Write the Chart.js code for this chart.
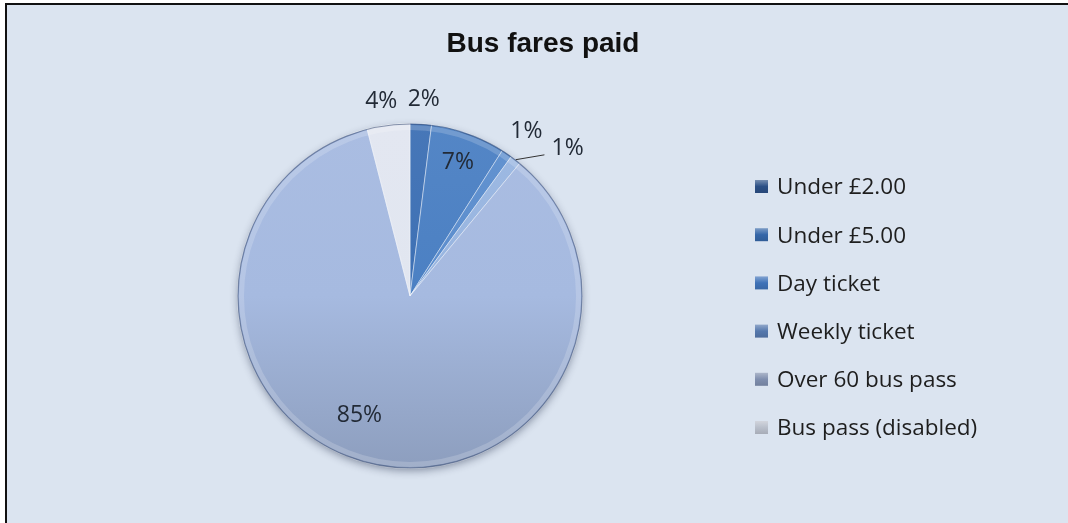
<!DOCTYPE html>
<html>
<head>
<meta charset="utf-8">
<title>Bus fares paid</title>
<script src="https://cdn.jsdelivr.net/npm/chart.js@4.4.1/dist/chart.umd.min.js"></script>
<style>
  html, body { margin: 0; padding: 0; background: #fff; overflow: hidden; }
  #frame {
    position: absolute; left: 5px; top: 3px; width: 1063px; height: 520px;
    background: #dbe4f0; border-top: 2px solid #111; border-left: 2px solid #111;
  }
  #chart { position: absolute; left: 0; top: 0; }
</style>
</head>
<body>
<div id="frame"></div>
<canvas id="chart" width="1068" height="523"></canvas>
<script>
/* data */
const chartTitle = 'Bus fares paid';
const fareTypes = ['Under £2.00', 'Under £5.00', 'Day ticket', 'Weekly ticket', 'Over 60 bus pass', 'Bus pass (disabled)'];
const farePercent = [2, 7, 1, 1, 85, 4];

/* look */
const sliceColors = ['#3d70b4', '#4b80c3', '#5b8dcd', '#98b5e0', '#a6bae0', '#e1e6f0'];
const keyColors   = ['#2b4f85', '#3566a8', '#3f72b8', '#5578ad', '#7f8eae', '#b9bfcb'];
const FONT = "'Open Sans', sans-serif";

// label placement per slice: radius factor + angle shift (deg)
const labelLayout = [
  { r: 1.14, da: 0.4 },
  { r: 0.82, da: 0 },
  { r: 1.17, da: 1 },
  { r: 1.25, da: 9.2, leader: true },
  { r: 0.75, da: 10.4 },
  { r: 1.14, da: -1.2 }
];

const shade = (hex, amt) => {
  const n = parseInt(hex.slice(1), 16);
  let r = n >> 16, g = (n >> 8) & 255, b = n & 255;
  const t = amt < 0 ? 0 : 255, p = Math.abs(amt);
  r = Math.round(r + (t - r) * p); g = Math.round(g + (t - g) * p); b = Math.round(b + (t - b) * p);
  return `rgb(${r},${g},${b})`;
};

const sliceFill = (c) => {
  const chart = c.chart, area = chart.chartArea;
  const base = sliceColors[c.dataIndex];
  if (!area) return base;
  const g = chart.ctx.createLinearGradient(0, area.top, 0, area.bottom);
  g.addColorStop(0, shade(base, 0.05));
  g.addColorStop(0.5, base);
  g.addColorStop(1, shade(base, -0.15));
  return g;
};

/* title, labels, legend, bevel */
const overlay = {
  id: 'overlay',
  beforeDatasetsDraw(chart) {
    const arc = chart.getDatasetMeta(0).data[0];
    if (!arc) return;
    const ctx = chart.ctx;
    ctx.save();
    ctx.shadowColor = 'rgba(20,30,60,0.45)';
    ctx.shadowBlur = 9;
    ctx.shadowOffsetY = 3;
    ctx.fillStyle = '#9aaed6';
    ctx.beginPath();
    ctx.arc(arc.x, arc.y, arc.outerRadius - 1, 0, Math.PI * 2);
    ctx.fill();
    ctx.restore();
  },
  afterDatasetsDraw(chart) {
    const ctx = chart.ctx;
    const meta = chart.getDatasetMeta(0);
    ctx.save();

    // bevel on the rim
    const a0 = meta.data[0];
    ctx.lineWidth = 5;
    ctx.strokeStyle = 'rgba(255,255,255,0.18)';
    ctx.beginPath();
    ctx.arc(a0.x, a0.y, a0.outerRadius - 4, 0, Math.PI * 2);
    ctx.stroke();
    ctx.lineWidth = 1.2;
    ctx.strokeStyle = 'rgba(50,70,110,0.55)';
    ctx.beginPath();
    ctx.arc(a0.x, a0.y, a0.outerRadius - 0.5, 0, Math.PI * 2);
    ctx.stroke();

    // percent labels
    ctx.font = '23px ' + FONT;
    ctx.fillStyle = '#222a36';
    ctx.textAlign = 'center';
    ctx.textBaseline = 'middle';
    const total = farePercent.reduce((s, v) => s + v, 0);
    meta.data.forEach((arc, i) => {
      const p = arc.getProps(['x', 'y', 'startAngle', 'endAngle', 'outerRadius'], true);
      const mid = (p.startAngle + p.endAngle) / 2;
      const lay = labelLayout[i];
      const a = mid + lay.da * Math.PI / 180;
      const r = p.outerRadius * lay.r;
      const lx = p.x + r * Math.cos(a), ly = p.y + r * Math.sin(a);
      if (lay.leader) {
        const a2 = mid + (lay.da - 3.4) * Math.PI / 180;
        ctx.strokeStyle = '#333';
        ctx.lineWidth = 1;
        ctx.beginPath();
        ctx.moveTo(p.x + p.outerRadius * Math.cos(mid), p.y + p.outerRadius * Math.sin(mid));
        ctx.lineTo(p.x + p.outerRadius * 1.13 * Math.cos(a2), p.y + p.outerRadius * 1.13 * Math.sin(a2));
        ctx.stroke();
      }
      ctx.fillText(Math.round(farePercent[i] / total * 100) + '%', lx, ly);
    });

    // title
    ctx.font = "bold 28px 'Liberation Sans', Arial, sans-serif";
    ctx.fillStyle = '#111';
    ctx.textBaseline = 'alphabetic';
    ctx.fillText(chartTitle, 543, 52);

    // legend
    ctx.font = '22.5px ' + FONT;
    ctx.textAlign = 'left';
    ctx.textBaseline = 'middle';
    fareTypes.forEach((name, i) => {
      const y = 186.5 + i * 48.2;
      const g = ctx.createLinearGradient(0, y - 6.5, 0, y + 6.5);
      g.addColorStop(0, shade(keyColors[i], 0.35));
      g.addColorStop(0.5, keyColors[i]);
      g.addColorStop(1, shade(keyColors[i], -0.1));
      ctx.fillStyle = g;
      ctx.fillRect(755, y - 6.5, 13, 13);
      ctx.fillStyle = '#1e1e1e';
      ctx.fillText(name, 777, y + 1.5);
    });
    ctx.restore();
  }
};

new Chart(document.getElementById('chart'), {
  type: 'pie',
  data: {
    labels: fareTypes,
    datasets: [{
      data: farePercent,
      backgroundColor: sliceFill,
      borderColor: 'rgba(255,255,255,0.45)',
      borderWidth: 1
    }]
  },
  options: {
    responsive: false,
    animation: false,
    layout: { padding: { left: 237, right: 485, top: 123, bottom: 54 } },
    plugins: {
      legend: { display: false },
      title: { display: false },
      tooltip: { enabled: false }
    }
  },
  plugins: [overlay]
});
</script>
</body>
</html>
